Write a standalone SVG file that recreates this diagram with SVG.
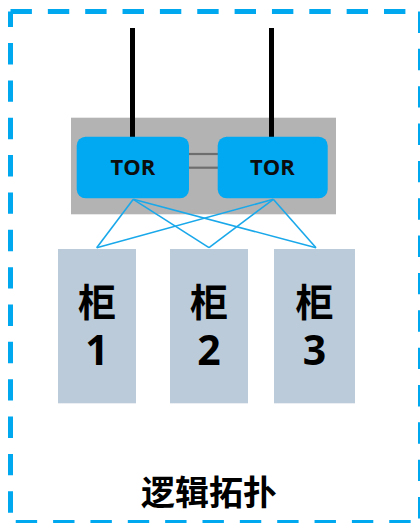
<svg xmlns="http://www.w3.org/2000/svg" width="420" height="523" viewBox="0 0 420 523">
<style>
.border{stroke:#00a8f0;stroke-width:5;fill:none;stroke-dasharray:21.4 15.95}
.tor{fill:#00a9f1}
.tort{font-family:"Open Sans","Noto Sans","DejaVu Sans",sans-serif;font-weight:700;font-size:22px;fill:#0d0d0d;text-anchor:middle}
.cab{fill:#bccbda}
.cabt{font-family:"Noto Sans CJK SC","Noto Sans",sans-serif;font-weight:700;font-size:38px;fill:#000;text-anchor:middle}
.num{font-family:"Open Sans","Noto Sans",sans-serif;font-size:41px}
.uplink{stroke:#000;stroke-width:5}
.link{stroke:#19a8ea;stroke-width:1.6;fill:none}
.peer{stroke:#6e6e6e;stroke-width:2.2}
</style>
<rect width="420" height="523" fill="#ffffff"/>
<g id="frame">
<line class="border" x1="10.5" y1="11.5" x2="420.5" y2="11.5"/>
<line class="border" x1="420.5" y1="11.5" x2="420.5" y2="522.5"/>
<line class="border" x1="10.5" y1="522.5" x2="420.5" y2="522.5" stroke-dashoffset="32.1"/>
<line class="border" x1="10.5" y1="11.5" x2="10.5" y2="522.5" stroke-dashoffset="5.8"/>
</g>
<g id="tor-group">
<rect x="71" y="117.7" width="265" height="96.6" fill="#b3b3b3"/>
</g>
<g id="connectors">
<line class="uplink" x1="132.5" y1="28" x2="132.5" y2="138"/>
<line class="uplink" x1="271.5" y1="28" x2="271.5" y2="138"/>
<line class="peer" x1="188" y1="154" x2="219" y2="154"/>
<line class="peer" x1="188" y1="167.7" x2="219" y2="167.7"/>
<line class="link" x1="133.3" y1="199.3" x2="96.7" y2="247.7"/>
<line class="link" x1="133.3" y1="199.3" x2="209" y2="247.7"/>
<line class="link" x1="133.3" y1="199.3" x2="316" y2="247.7"/>
<line class="link" x1="273.3" y1="199.3" x2="96.7" y2="247.7"/>
<line class="link" x1="273.3" y1="199.3" x2="209" y2="247.7"/>
<line class="link" x1="273.3" y1="199.3" x2="316" y2="247.7"/>
</g>
<g id="tor1">
<rect class="tor" x="76.7" y="136.7" width="112.3" height="61.6" rx="9"/>
<text class="tort" x="133" y="175">TOR</text>
</g>
<g id="tor2">
<rect class="tor" x="217.7" y="136.7" width="110" height="61.6" rx="9"/>
<text class="tort" x="272.5" y="175">TOR</text>
</g>
<g id="cab1">
<rect class="cab" x="58" y="249" width="78" height="154.3"/>
<text class="cabt" x="97" y="316">柜<tspan class="num" x="97" y="365">1</tspan></text>
</g>
<g id="cab2">
<rect class="cab" x="170" y="249" width="78" height="154.3"/>
<text class="cabt" x="209" y="316">柜<tspan class="num" x="209" y="365">2</tspan></text>
</g>
<g id="cab3">
<rect class="cab" x="274" y="249" width="81" height="154.3"/>
<text class="cabt" x="314.5" y="316">柜<tspan class="num" x="314.5" y="365">3</tspan></text>
</g>
<g id="title">
<text x="209" y="505" font-family="'Noto Sans CJK SC',sans-serif" font-weight="700" font-size="34" text-anchor="middle" fill="#000">逻辑拓扑</text>
</g>
</svg>
